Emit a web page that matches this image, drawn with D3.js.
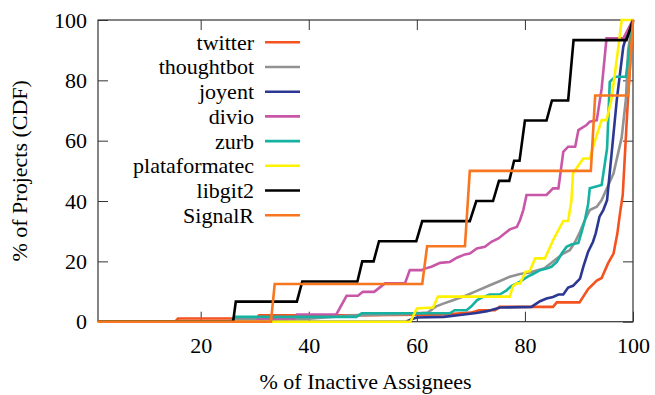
<!DOCTYPE html>
<html>
<head>
<meta charset="utf-8">
<script src="https://cdn.jsdelivr.net/npm/d3@7/dist/d3.min.js"></script>
<style>
  body { margin: 0; background: #fff; }
  svg text { font-family: "Liberation Serif", "Times New Roman", serif; fill: #000; }
</style>
</head>
<body>
<svg id="chart" width="655" height="395"></svg>
<script>
// series data, [x %, y %]
var twitter = [[1,0],[15.3,0],[15.8,1.05],[30.3,1.05],[30.8,2.1],[47,2.1],[65,2.4],[70,3],[71.5,3.8],[74.5,3.8],[75.3,4.9],[85.2,4.9],[85.9,6.4],[90.1,6.4],[91.7,10.8],[93.3,13.6],[94.2,14.5],[95.4,19.4],[96.4,22.6],[97.1,29.2],[97.6,36],[98.1,42],[99.1,75],[100,100]];
var thoughtbot = [[1,0],[25,0],[26,0.7],[40,1],[48,2.1],[58,2.5],[62,3],[63.6,5.1],[64.9,6],[66.7,7.1],[68.9,8.5],[71.1,10.2],[73.5,12.1],[75.4,13.5],[77.2,14.9],[79.1,15.8],[80.9,16.3],[83.6,17.7],[85.1,19.8],[87.1,22.6],[88.3,23.7],[89.3,26.5],[90.2,29.8],[91.1,33.7],[92,37],[93.3,38.1],[94.2,40.3],[96.4,49.2],[97.9,61],[98.7,74],[99.1,90],[100,100]];
var joyent = [[1,0],[58,0],[59,0.8],[60,1.4],[65,1.6],[68,2.2],[71,2.9],[73,3.5],[75.4,4.7],[81.2,4.9],[82.8,6.8],[84,7.7],[85.2,8.2],[86.2,9],[87.1,9],[88,11.3],[88.9,11.9],[90.2,14.3],[90.8,18.2],[91.7,23.2],[92.6,26.5],[93.1,29.3],[93.8,34.8],[94.5,37],[95.2,40.3],[96,55],[97,73.5],[98.2,91.1],[99.1,96.7],[100,100]];
var divio = [[1,0],[30,0],[31,1.1],[37.3,1.1],[37.8,2.4],[45.1,2.4],[47,8.6],[49.1,8.6],[50,9.9],[52.1,9.9],[54.1,12.7],[57.8,12.7],[58.7,17.1],[60.9,17.1],[61.5,17.6],[62.7,18.2],[64.3,19.5],[66.1,19.8],[67.4,21.2],[68.9,22.3],[69.8,22.6],[71.1,24.3],[72.6,24.8],[73.8,26.5],[75.1,27.6],[76.3,29.3],[77.2,30.6],[78.5,31.4],[79.1,33.7],[79.7,37],[80.3,42],[84,42],[85.2,44.2],[86.2,44.2],[87.1,56.3],[88,58],[89.3,58],[89.9,63.5],[91.4,65.2],[92,66.3],[93.3,66.8],[94.2,77.3],[95.1,93.9],[98.2,93.9],[100,100]];
var zurb = [[1,0],[25.8,0],[26.3,1.6],[48.8,1.6],[49.8,2.8],[66.1,2.8],[67,3.8],[69.2,3.8],[70.1,5.1],[71.1,7.1],[72,8],[73.5,9],[75.4,9.1],[76.6,10.4],[77.5,11.8],[79.1,13.3],[80.6,15],[81.5,15.8],[82.8,17.1],[84,17.6],[84.9,18.2],[85.9,19.8],[86.8,22.6],[87.7,24.8],[88.6,25.6],[89.9,26.1],[90.5,29.8],[91.1,33.7],[91.7,39],[92,44.2],[94.2,45.3],[95.2,57.4],[95.7,79.5],[96.7,81.2],[98.7,81.2],[100,100]];
var plataformatec = [[1,0],[58.8,0],[60,4.4],[63,4.7],[63.9,8.3],[77.2,8.3],[77.8,11.8],[78.5,12.7],[79.1,12.7],[80.1,16.5],[80.9,16.8],[81.9,21],[83.7,21],[85.2,27],[87.1,33.4],[88,33.4],[88.6,40],[88.9,49.2],[90.8,54.1],[92,54.1],[93,60.2],[94.2,66.8],[95.1,66.8],[96,73.5],[97.3,91.1],[97.9,100],[100,100]];
var libgit2 = [[1,0],[26,0],[26.5,6.67],[37.8,6.67],[38.8,13.33],[49,13.33],[49.9,20],[52,20],[53,26.67],[59.9,26.67],[61,33.33],[69.8,33.33],[71,40],[74.1,40],[75.2,46.67],[77.1,46.67],[78,53.33],[79,53.33],[80,66.67],[84,66.67],[85,73.33],[88,73.33],[89,93.33],[98.8,93.33],[100,100]];
var signalR = [[1,0],[33,0],[33.7,12.5],[61,12.5],[61.9,25],[68.9,25],[69.8,50],[92.2,50],[93,75],[99.1,75],[100,100]];

var names = ["twitter","thoughtbot","joyent","divio","zurb","plataformatec","libgit2","SignalR"];
var seriesData = [twitter, thoughtbot, joyent, divio, zurb, plataformatec, libgit2, signalR];
var colors = ["#f4521f","#929292","#2b3893","#c957a8","#15b2a2","#fff200","#000000","#f8761f"];

var xTicks = [20,40,60,80,100];
var yTicks = [0,20,40,60,80,100];

var svg = d3.select("#chart");
// note: "top" is reserved on window, so use plot* names
var plotLeft = 98, plotRight = 633, plotTop = 20, plotBottom = 321.7;

var xScale = d3.scaleLinear().domain([1,100]).range([plotLeft,plotRight]);
var yScale = d3.scaleLinear().domain([0,100]).range([plotBottom,plotTop]);

// axes, ticks pointing inwards and mirrored
svg.append("g")
    .attr("transform","translate(0," + plotBottom + ")")
    .call(d3.axisBottom(xScale).tickValues(xTicks).tickSize(-10).tickPadding(16))
    .call(function(g){ g.select(".domain").remove(); });
svg.append("g")
    .attr("transform","translate(0," + plotTop + ")")
    .call(d3.axisTop(xScale).tickValues(xTicks).tickSize(-10).tickFormat(""))
    .call(function(g){ g.select(".domain").remove(); });
svg.append("g")
    .attr("transform","translate(" + plotLeft + ",0)")
    .call(d3.axisLeft(yScale).tickValues(yTicks).tickSize(-10).tickPadding(11))
    .call(function(g){ g.select(".domain").remove(); });
svg.append("g")
    .attr("transform","translate(" + plotRight + ",0)")
    .call(d3.axisRight(yScale).tickValues(yTicks).tickSize(-10).tickFormat(""))
    .call(function(g){ g.select(".domain").remove(); });

svg.selectAll(".tick line").attr("stroke","#333");
svg.selectAll(".tick text")
    .style("font-size","22px")
    .style("font-family","'Liberation Serif', 'Times New Roman', serif");

svg.append("rect")
    .attr("x",plotLeft).attr("y",plotTop)
    .attr("width",plotRight-plotLeft).attr("height",plotBottom-plotTop)
    .attr("fill","none").attr("stroke","#333").attr("stroke-width",1.2);

var line = d3.line()
    .x(function(d){ return xScale(d[0]); })
    .y(function(d){ return yScale(d[1]); });

for(var i=0;i<seriesData.length;i++){
    svg.append("path")
        .attr("d",line(seriesData[i]))
        .attr("fill","none")
        .attr("stroke",colors[i])
        .attr("stroke-width",2.6)
        .attr("stroke-linejoin","miter");
}

// legend
var legend = svg.append("g");
for(var j=0;j<names.length;j++){
    var ly = 42.3 + j*24.7;
    legend.append("text")
        .attr("x",254).attr("y",ly).attr("dy","0.34em")
        .attr("text-anchor","end")
        .style("font-size","22px")
        .text(names[j]);
    legend.append("line")
        .attr("x1",265).attr("x2",300)
        .attr("y1",ly).attr("y2",ly)
        .attr("stroke",colors[j]).attr("stroke-width",2.6);
}

// axis titles
svg.append("text")
    .attr("x",(plotLeft+plotRight)/2).attr("y",389)
    .attr("text-anchor","middle")
    .style("font-size","22px")
    .text("% of Inactive Assignees");
svg.append("text")
    .attr("transform","translate(27," + ((plotTop+plotBottom)/2) + ") rotate(-90)")
    .attr("text-anchor","middle")
    .style("font-size","22px")
    .text("% of Projects (CDF)");
</script>
</body>
</html>
